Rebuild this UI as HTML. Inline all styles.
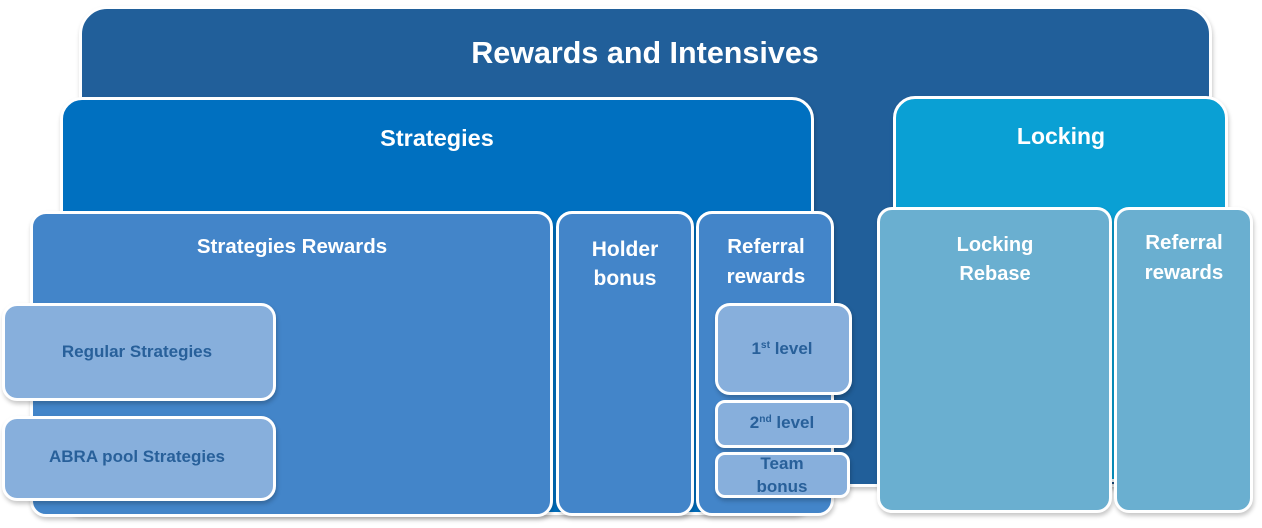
<!DOCTYPE html>
<html><head><meta charset="utf-8"><style>
html,body{margin:0;padding:0;background:#fff;}
body{width:1262px;height:528px;position:relative;overflow:hidden;font-family:"Liberation Sans",Arial,sans-serif;font-weight:bold;}
.b{position:absolute;box-sizing:border-box;border:3px solid #fff;box-shadow:1px 3px 4px rgba(0,0,0,0.22);}
.t{position:absolute;width:400px;text-align:center;color:#fff;white-space:nowrap;}
.d{color:#28609a;}
sup{font-size:0.6em;vertical-align:0;position:relative;top:-0.55em;line-height:0;}
</style></head><body>
<div class="b" style="left:79px;top:6px;width:1133px;height:481px;background:#215f9a;border-radius:28px;"></div>
<div class="b" style="left:60px;top:97px;width:754px;height:418px;background:#0070c0;border-radius:22px;"></div>
<div class="b" style="left:893px;top:96px;width:335px;height:386px;background:#0aa0d4;border-radius:22px;"></div>

<div class="b" style="left:30px;top:211px;width:523px;height:306px;background:#4385c9;border-radius:16px;"></div>
<div class="b" style="left:556px;top:211px;width:138px;height:305px;background:#4385c9;border-radius:16px;"></div>
<div class="b" style="left:696px;top:211px;width:138px;height:305px;background:#4385c9;border-radius:16px;"></div>

<div class="b" style="left:715px;top:303px;width:137px;height:92px;background:#87afdc;border-radius:15px;"></div>
<div class="b" style="left:715px;top:400px;width:137px;height:48px;background:#87afdc;border-radius:10px;"></div>
<div class="b" style="left:715px;top:452px;width:135px;height:46px;background:#87afdc;border-radius:10px;"></div>

<div class="b" style="left:2px;top:303px;width:274px;height:98px;background:#87afdc;border-radius:15px;"></div>
<div class="b" style="left:2px;top:416px;width:274px;height:85px;background:#87afdc;border-radius:15px;"></div>

<div class="b" style="left:877px;top:207px;width:235px;height:306px;background:#6aafd0;border-radius:15px;"></div>
<div class="b" style="left:1114px;top:207px;width:139px;height:306px;background:#6aafd0;border-radius:15px;"></div>

<div class="t" style="left:445px;top:35px;font-size:30.5px;line-height:36px;">Rewards and Intensives</div>
<div class="t" style="left:237px;top:124px;font-size:23.5px;line-height:28px;">Strategies</div>
<div class="t" style="left:861px;top:122px;font-size:23px;line-height:28px;">Locking</div>

<div class="t" style="left:92px;top:235px;font-size:20.5px;line-height:24px;">Strategies Rewards</div>
<div class="t" style="left:425px;top:238px;font-size:21px;line-height:24px;">Holder</div>
<div class="t" style="left:425px;top:267px;font-size:21px;line-height:24px;">bonus</div>
<div class="t" style="left:566px;top:235px;font-size:20.5px;line-height:24px;">Referral</div>
<div class="t" style="left:566px;top:265px;font-size:20.5px;line-height:24px;">rewards</div>

<div class="t" style="left:795px;top:233px;font-size:20px;line-height:24px;">Locking</div>
<div class="t" style="left:795px;top:262px;font-size:20px;line-height:24px;">Rebase</div>
<div class="t" style="left:984px;top:231px;font-size:20.5px;line-height:24px;">Referral</div>
<div class="t" style="left:984px;top:261px;font-size:20.5px;line-height:24px;">rewards</div>

<div class="t d" style="left:-63px;top:342px;font-size:17px;line-height:20px;">Regular Strategies</div>
<div class="t d" style="left:-63px;top:447px;font-size:17px;line-height:20px;">ABRA pool Strategies</div>

<div class="t d" style="left:582px;top:339px;font-size:17px;line-height:20px;">1<sup>st</sup> level</div>
<div class="t d" style="left:582px;top:413px;font-size:17px;line-height:20px;">2<sup>nd</sup> level</div>
<div class="t d" style="left:582px;top:454px;font-size:17px;line-height:20px;">Team</div>
<div class="t d" style="left:582px;top:477px;font-size:17px;line-height:20px;">bonus</div>
</body></html>
